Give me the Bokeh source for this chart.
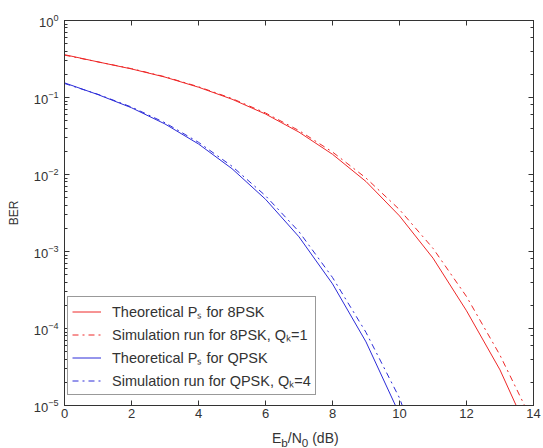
from bokeh.plotting import figure
from bokeh.models import (LinearAxis, LogAxis, Legend, LegendItem, FixedTicker, Range1d,
                          CustomJSTickFormatter, Div)
from bokeh.layouts import column
from bokeh.embed import file_html
from bokeh.resources import INLINE

# Eb/N0 (dB)
ebn0 = [0, 1, 2, 3, 4, 5, 6, 7, 8, 9, 10, 11, 12, 13, 14]
# Theoretical symbol error rate, 8PSK
ps_8psk_theory = [0.36, 0.29, 0.235, 0.184, 0.136, 0.095, 0.061, 0.0355, 0.0183,
                  0.0081, 0.0029, 0.00082, 0.00017, 2.9e-5, 3.2e-6]
# Simulation, 8PSK, Qk=1
ps_8psk_sim = [0.355, 0.29, 0.237, 0.186, 0.138, 0.097, 0.063, 0.0372, 0.0196,
               0.0090, 0.0035, 0.00110, 0.00026, 4.5e-5, 5.8e-6]

ebn0_q = [0, 1, 2, 3, 4, 5, 6, 7, 8, 9, 10, 10.5]
# Theoretical symbol error rate, QPSK
ps_qpsk_theory = [0.155, 0.109, 0.0736, 0.0453, 0.0249, 0.0119, 0.00477,
                  0.00155, 0.00038, 6.7e-5, 7.7e-6, 2.2e-6]
# Simulation, QPSK, Qk=4
ps_qpsk_sim = [0.152, 0.110, 0.0752, 0.0470, 0.0262, 0.0128, 0.0053,
               0.00181, 0.00046, 8.9e-5, 1.25e-5, 3.2e-6]

x_ticks = [0, 2, 4, 6, 8, 10, 12, 14]
legend_labels = ["Theoretical Pₛ for 8PSK", "Simulation run for 8PSK, Qₖ=1",
                 "Theoretical Pₛ for QPSK", "Simulation run for QPSK, Qₖ=4"]
x_label_html = "E<sub>b</sub>/N<sub>0</sub> (dB)"

FONT = "Liberation Sans"
AX = "#333333"
RED = "#ee2828"
BLUE = "#2c2cd8"

p = figure(width=543, height=425, y_axis_type="log",
           x_range=Range1d(0, 14), y_range=Range1d(1e-5, 1),
           output_backend="svg", toolbar_location=None,
           min_border_left=64, min_border_right=10, min_border_top=20, min_border_bottom=20)
p.background_fill_color = "white"
p.border_fill_color = "white"
p.outline_line_color = AX
p.xgrid.visible = False
p.ygrid.visible = False

r1 = p.line(ebn0, ps_8psk_theory, line_color=RED, line_width=1)
r2 = p.line(ebn0, ps_8psk_sim, line_color=RED, line_width=1, line_dash="dashdot")
r3 = p.line(ebn0_q, ps_qpsk_theory, line_color=BLUE, line_width=1)
r4 = p.line(ebn0_q, ps_qpsk_sim, line_color=BLUE, line_width=1, line_dash="dashdot")

def style(ax):
    ax.axis_line_color = AX
    ax.major_tick_line_color = AX
    ax.minor_tick_line_color = AX
    ax.major_tick_in = 5
    ax.major_tick_out = 0
    ax.minor_tick_in = 3
    ax.minor_tick_out = 0
    ax.major_label_text_font = FONT
    ax.major_label_text_font_size = "13px"
    ax.major_label_text_color = AX
    ax.axis_label_text_font = FONT
    ax.axis_label_text_font_size = "12px"
    ax.axis_label_text_font_style = "normal"
    ax.axis_label_text_color = AX

xa = p.xaxis[0]
xa.ticker = FixedTicker(ticks=x_ticks, minor_ticks=[])
xa.major_label_standoff = 3
style(xa)

ya = p.yaxis[0]
ya.ticker.desired_num_ticks = 6
ya.axis_label = "BER"
ya.axis_label_standoff = 10
ya.major_label_standoff = 6
style(ya)

top = LinearAxis(ticker=FixedTicker(ticks=x_ticks, minor_ticks=[]),
                 formatter=CustomJSTickFormatter(code="return ''"))
style(top)
p.add_layout(top, "above")
right = LogAxis(formatter=CustomJSTickFormatter(code="return ''"))
style(right)
p.add_layout(right, "right")

legend = Legend(items=[
    LegendItem(label=legend_labels[0], renderers=[r1]),
    LegendItem(label=legend_labels[1], renderers=[r2]),
    LegendItem(label=legend_labels[2], renderers=[r3]),
    LegendItem(label=legend_labels[3], renderers=[r4]),
], location=(3, 10))
legend.label_text_font = FONT
legend.label_text_font_size = "14.5px"
legend.label_text_color = AX
legend.border_line_color = AX
legend.border_line_width = 1
legend.margin = 0
legend.padding = 4
legend.spacing = 3
legend.glyph_width = 29
legend.label_height = 17
legend.glyph_height = 17
legend.label_standoff = 11
p.add_layout(legend)

xlabel = Div(text=x_label_html, width=543, height=23, margin=(0, 0, 0, 0),
             styles={"padding-left": "272px", "padding-top": "6px",
                     "font-family": FONT, "font-size": "14px", "line-height": "14px",
                     "color": AX, "background-color": "white",
                     "box-sizing": "border-box", "white-space": "nowrap"})

layout = column(p, xlabel, spacing=0)
open("out.html", "w").write(file_html(layout, INLINE))
